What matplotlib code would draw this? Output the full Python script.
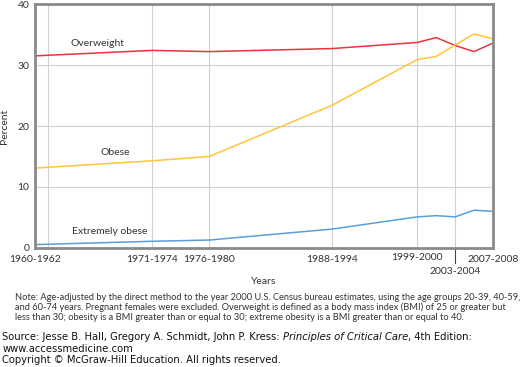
import matplotlib
matplotlib.use("Agg")
import matplotlib.pyplot as plt

# survey periods (x in approximate mid-years so the spacing matches)
years = [1959.6, 1972, 1978, 1991, 2000, 2002, 2004, 2006, 2008]
overweight = [31.5, 32.4, 32.2, 32.7, 33.7, 34.5, 33.2, 32.2, 33.6]
obese = [13.1, 14.3, 15.0, 23.4, 30.9, 31.4, 33.3, 35.1, 34.3]
extreme = [0.55, 1.1, 1.3, 3.1, 5.1, 5.3, 5.1, 6.2, 6.0]

grid_years = [1961, 1972, 1978, 1991, 2000, 2004]
tick_years = [1959.6, 1972, 1978, 1991, 2000, 2004, 2008]
tick_labels = ["1960-1962", "1971-1974", "1976-1980", "1988-1994",
               "1999-2000", "2003-2004", "2007-2008"]
y_ticks = [0, 10, 20, 30, 40]

note_lines = [
    "Note: Age-adjusted by the direct method to the year 2000 U.S. Census bureau estimates, using the age groups 20-39, 40-59,",
    "and 60-74 years. Pregnant females were excluded. Overweight is defined as a body mass index (BMI) of 25 or greater but",
    "less than 30; obesity is a BMI greater than or equal to 30; extreme obesity is a BMI greater than or equal to 40.",
]

RED = "#e8343f"
YELLOW = "#ffc53a"
BLUE = "#5b9fd8"
SPINE = "#8a8a8a"
TXT = "#333333"

plt.rcParams["font.family"] = ["Lato", "DejaVu Sans"]

fig = plt.figure(figsize=(5.2, 3.67), dpi=100)
ax = fig.add_axes([0.0673, 0.3243, 0.8807, 0.6647])

for gx in grid_years:
    ax.axvline(gx, color="#d0d0d0", lw=0.8, zorder=0)
for gy in y_ticks[1:-1]:
    ax.axhline(gy, color="#d0d0d0", lw=0.8, zorder=0)

ax.plot(years, overweight, color=RED, lw=1.1)
ax.plot(years, obese, color=YELLOW, lw=1.1)
ax.plot(years, extreme, color=BLUE, lw=1.1)

ax.text(1966.2, 33.6, "Overweight", ha="center", va="center", fontsize=7.5, color=TXT)
ax.text(1968.1, 15.6, "Obese", ha="center", va="center", fontsize=7.5, color=TXT)
ax.text(1967.5, 2.7, "Extremely obese", ha="center", va="center", fontsize=7.5, color=TXT)

ax.set_xlim(years[0], years[-1])
ax.set_ylim(y_ticks[0], y_ticks[-1])
ax.set_xticks(tick_years, labels=tick_labels)
ax.set_yticks(y_ticks)
ax.tick_params(length=0, labelsize=7.5, labelcolor=TXT)
ax.tick_params(axis="x", pad=5)
ax.tick_params(axis="y", pad=4)
# 1999-2000 sits a little higher, 2003-2004 one row lower with a long tick above it
ax.xaxis.get_major_ticks()[4].set_pad(3.5)
ax.xaxis.get_major_ticks()[5].set_pad(14)
ax.plot([tick_years[5], tick_years[5]], [0, -0.06], transform=ax.get_xaxis_transform(),
        color="#444444", lw=0.8, clip_on=False)

for side in ["left", "bottom", "top", "right"]:
    ax.spines[side].set_color(SPINE)
    ax.spines[side].set_linewidth(2)

ax.set_xlabel("Years", fontsize=7.5, color=TXT)
ax.xaxis.set_label_coords(0.5, -0.118)
ax.set_ylabel("Percent", fontsize=7.5, color=TXT, labelpad=6)

for i, line in enumerate(note_lines):
    fig.text(0.029, 1 - (297 + 10.5 * i) / 367, line, fontsize=6.7, color=TXT,
             va="center", ha="left")

src = fig.text(0.004, 1 - 337 / 367,
               "Source: Jesse B. Hall, Gregory A. Schmidt, John P. Kress: ",
               fontsize=7.2, family="DejaVu Sans", color="#111111", va="center")
it = ax.annotate("Principles of Critical Care", xy=(1, 0), xycoords=src, va="bottom",
                 fontsize=7.2, family="DejaVu Sans", style="italic", color="#111111")
ax.annotate(", 4th Edition:", xy=(1, 0), xycoords=it, va="bottom",
            fontsize=7.2, family="DejaVu Sans", color="#111111")
fig.text(0.004, 1 - 349 / 367, "www.accessmedicine.com", fontsize=7.2,
         family="DejaVu Sans", color="#111111", va="center")
fig.text(0.004, 1 - 360 / 367, "Copyright \u00a9 McGraw-Hill Education. All rights reserved.",
         fontsize=7.2, family="DejaVu Sans", color="#111111", va="center")

fig.savefig("out.png", dpi=100)
